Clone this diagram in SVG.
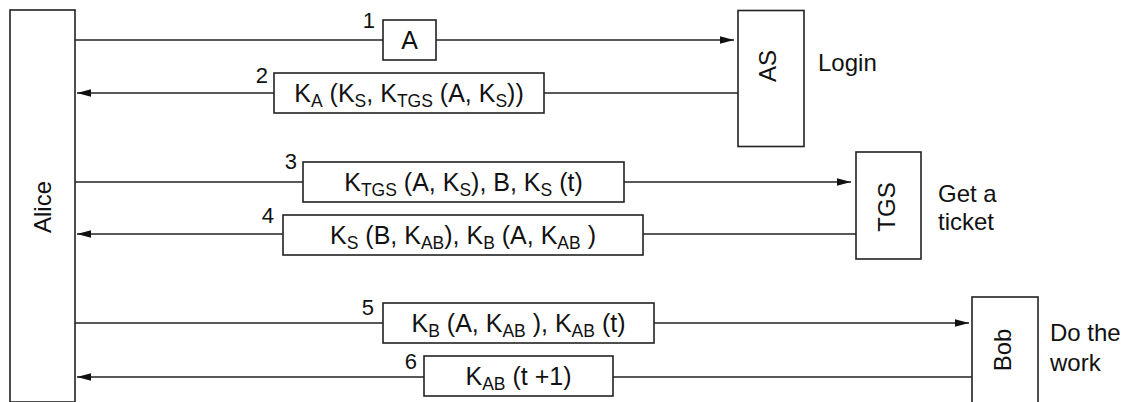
<svg xmlns="http://www.w3.org/2000/svg" width="1128" height="402" viewBox="0 0 1128 402">
<style>
.box{fill:#fff;stroke:#222;stroke-width:1.6}
.ln{stroke:#222;stroke-width:1.5;fill:none}
.t{font-family:"Liberation Sans",Arial,sans-serif;font-size:24px;fill:#111}
.m{font-family:"Liberation Sans",Arial,sans-serif;font-size:25px;fill:#111;text-anchor:middle}
.n{font-family:"Liberation Sans",Arial,sans-serif;font-size:22px;fill:#111;text-anchor:end}
.v{font-family:"Liberation Sans",Arial,sans-serif;font-size:24px;fill:#111;text-anchor:middle}
.s{font-size:17.5px}
</style>
<defs>
<marker id="ah" markerUnits="userSpaceOnUse" markerWidth="16" markerHeight="10" viewBox="0 0 16 10" refX="15" refY="5" orient="auto">
<path d="M1,1.2 L15,5 L1,8.8 Z" fill="#111"/>
</marker>
</defs>
<g id="alice">
<rect class="box" x="10" y="10" width="65" height="392"/>
<text class="v" transform="translate(42.5,207) rotate(-90)" y="8.5">Alice</text>
</g>
<g id="as">
<rect class="box" x="738" y="10.5" width="66" height="136"/>
<text class="v" transform="translate(767,66) rotate(-90)" y="8.5">AS</text>
<text class="t" x="818" y="71">Login</text>
</g>
<g id="tgs">
<rect class="box" x="856" y="152" width="65" height="107"/>
<text class="v" transform="translate(886,207) rotate(-90)" y="8.5">TGS</text>
<text class="t" x="938" y="202">Get a</text>
<text class="t" x="938" y="230">ticket</text>
</g>
<g id="bob">
<rect class="box" x="972" y="297" width="66" height="106"/>
<text class="v" transform="translate(1002,350) rotate(-90)" y="8.5">Bob</text>
<text class="t" x="1050" y="341">Do the</text>
<text class="t" x="1050" y="371">work</text>
</g>
<g id="connectors">
<line class="ln" x1="75" y1="40" x2="734" y2="40" marker-end="url(#ah)"/>
<line class="ln" x1="738" y1="93" x2="77" y2="93" marker-end="url(#ah)"/>
<line class="ln" x1="75" y1="182" x2="851" y2="182" marker-end="url(#ah)"/>
<line class="ln" x1="856" y1="234" x2="77" y2="234" marker-end="url(#ah)"/>
<line class="ln" x1="75" y1="323" x2="969" y2="323" marker-end="url(#ah)"/>
<line class="ln" x1="972" y1="377" x2="77" y2="377" marker-end="url(#ah)"/>

<rect class="box" x="383" y="20" width="53" height="40"/>
<text class="m" x="409.5" y="49">A</text>
<text class="n" x="375" y="28">1</text>

<rect class="box" x="274" y="73" width="270" height="40"/>
<text class="m" x="409" y="102">K<tspan class="s" dy="5">A</tspan><tspan dy="-5"> (K</tspan><tspan class="s" dy="5">S</tspan><tspan dy="-5">, K</tspan><tspan class="s" dy="5">TGS</tspan><tspan dy="-5"> (A, K</tspan><tspan class="s" dy="5">S</tspan><tspan dy="-5">))</tspan></text>
<text class="n" x="268" y="83">2</text>

<rect class="box" x="303" y="162" width="321" height="40"/>
<text class="m" x="463.5" y="191">K<tspan class="s" dy="5">TGS</tspan><tspan dy="-5"> (A, K</tspan><tspan class="s" dy="5">S</tspan><tspan dy="-5">), B, K</tspan><tspan class="s" dy="5">S</tspan><tspan dy="-5"> (t)</tspan></text>
<text class="n" x="297" y="169">3</text>

<rect class="box" x="283" y="215" width="360" height="40"/>
<text class="m" x="463" y="244">K<tspan class="s" dy="5">S</tspan><tspan dy="-5"> (B, K</tspan><tspan class="s" dy="5">AB</tspan><tspan dy="-5">), K</tspan><tspan class="s" dy="5">B</tspan><tspan dy="-5"> (A, K</tspan><tspan class="s" dy="5">AB</tspan><tspan dy="-5"> )</tspan></text>
<text class="n" x="274" y="223">4</text>

<rect class="box" x="383" y="303" width="271" height="40"/>
<text class="m" x="518.5" y="332">K<tspan class="s" dy="5">B</tspan><tspan dy="-5"> (A, K</tspan><tspan class="s" dy="5">AB</tspan><tspan dy="-5"> ), K</tspan><tspan class="s" dy="5">AB</tspan><tspan dy="-5"> (t)</tspan></text>
<text class="n" x="374" y="315">5</text>

<rect class="box" x="424" y="356" width="189" height="40"/>
<text class="m" x="518.5" y="385">K<tspan class="s" dy="5">AB</tspan><tspan dy="-5"> (t +1)</tspan></text>
<text class="n" x="417" y="369">6</text>
</g>
</svg>
